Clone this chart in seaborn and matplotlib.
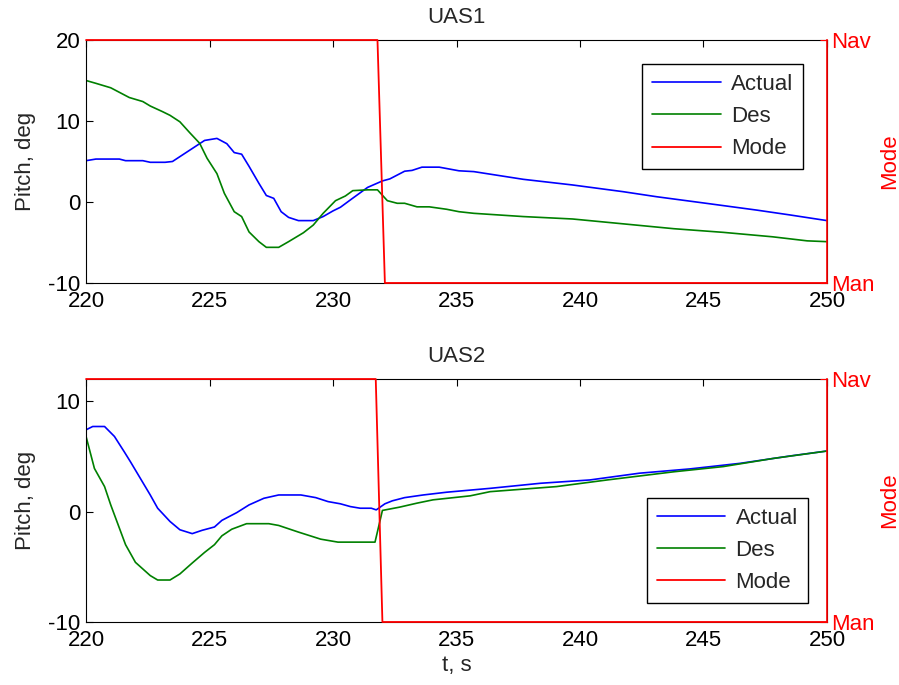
import matplotlib
matplotlib.use("Agg")
import matplotlib.pyplot as plt
import seaborn as sns

sns.set_style("white")
plt.rcParams['font.family'] = ['Liberation Sans', 'DejaVu Sans']
plt.rcParams['axes.unicode_minus'] = False

# UAS1 data
t_act1 = [220.0, 220.4, 221.35, 221.6, 222.3, 222.6, 223.2, 223.5, 223.8, 224.3, 224.8, 225.3, 225.7,
          226.0, 226.3, 226.6, 227.0, 227.3, 227.6, 227.9, 228.2, 228.6, 229.2, 229.6, 230.0, 230.3,
          230.7, 231.4, 232.0, 232.3, 232.9, 233.2, 233.6, 234.3, 235.1, 235.7, 237.7, 239.7, 241.75,
          243.1, 245.1, 247.15, 248.5, 250.0]
act1 = [5.1, 5.3, 5.3, 5.1, 5.1, 4.9, 4.9, 5.0, 5.6, 6.6, 7.6, 7.85, 7.2,
        6.1, 5.9, 4.4, 2.3, 0.8, 0.45, -1.2, -1.9, -2.3, -2.3, -1.8, -1.1, -0.65,
        0.25, 1.8, 2.6, 2.85, 3.8, 3.9, 4.3, 4.3, 3.85, 3.75, 2.8, 2.1, 1.27,
        0.65, -0.16, -1.0, -1.6, -2.3]
t_des1 = [220.0, 220.4, 221.0, 221.75, 222.3, 222.6, 223.1, 223.4, 223.8, 224.2, 224.6, 224.9, 225.3,
          225.6, 226.0, 226.3, 226.6, 227.0, 227.3, 227.8, 228.2, 228.8, 229.2, 229.6, 230.1, 230.5,
          230.8, 231.4, 231.8, 232.2, 232.6, 232.9, 233.4, 233.9, 234.6, 235.1, 235.7, 237.7, 239.7,
          241.75, 243.8, 245.8, 247.8, 249.2, 250.0]
des1 = [15.0, 14.65, 14.1, 12.9, 12.4, 11.85, 11.15, 10.7, 9.9, 8.55, 7.25, 5.4, 3.5,
        1.07, -1.2, -1.8, -3.7, -4.9, -5.6, -5.6, -4.9, -3.8, -2.85, -1.4, 0.16, 0.74,
        1.4, 1.5, 1.5, 0.16, -0.16, -0.16, -0.6, -0.6, -0.9, -1.2, -1.4, -1.8, -2.1,
        -2.7, -3.3, -3.75, -4.3, -4.8, -4.9]
t_mode1 = [220.0, 231.8, 232.1, 250.0]
mode1 = [1, 1, 0, 0]

# UAS2 data
t_act2 = [220.0, 220.27, 220.75, 221.15, 221.55, 221.8, 222.2, 222.6, 222.9, 223.4, 223.8, 224.3, 224.7,
          225.2, 225.5, 226.1, 226.6, 227.2, 227.8, 228.7, 229.3, 229.8, 230.3, 230.7, 231.1, 231.55,
          231.75, 232.1, 232.4, 232.9, 233.65, 234.6, 235.1, 236.36, 238.4, 240.4, 242.4, 244.45,
          246.5, 248.5, 250.0]
act2 = [7.4, 7.7, 7.7, 6.8, 5.4, 4.5, 3.0, 1.5, 0.3, -0.9, -1.65, -2.0, -1.7,
        -1.4, -0.8, -0.1, 0.6, 1.2, 1.5, 1.5, 1.26, 0.9, 0.7, 0.45, 0.3, 0.3,
        0.15, 0.7, 0.97, 1.26, 1.5, 1.75, 1.85, 2.1, 2.56, 2.86, 3.47, 3.86,
        4.37, 5.03, 5.48]
t_des2 = [220.0, 220.34, 220.75, 221.0, 221.3, 221.6, 222.0, 222.6, 222.9, 223.4, 223.8, 224.3, 224.8,
          225.2, 225.5, 225.9, 226.5, 227.4, 227.8, 228.2, 228.6, 229.5, 230.2, 231.7, 232.0, 232.7,
          233.4, 234.05, 235.55, 236.36, 239.05, 241.1, 243.8, 245.8, 247.8, 250.0]
des2 = [6.8, 3.9, 2.26, 0.6, -1.2, -3.0, -4.6, -5.8, -6.2, -6.2, -5.65, -4.66, -3.7,
        -3.0, -2.2, -1.6, -1.1, -1.1, -1.26, -1.56, -1.86, -2.5, -2.77, -2.77, 0.1, 0.4,
        0.76, 1.06, 1.42, 1.8, 2.26, 2.86, 3.6, 4.07, 4.8, 5.48]
t_mode2 = [220.0, 231.73, 232.0, 250.0]
mode2 = [1, 1, 0, 0]

x_ticks = [220, 225, 230, 235, 240, 245, 250]
mode_ticks = [0, 1]
mode_labels = ["Man", "Nav"]

FS = 16


# draw one panel: pitch lines on the left axis, mode on a red right axis
def draw_panel(ax, title, t_act, act, t_des, des, t_mode, mode, ylim, yticks, legend_loc, legend_anchor):
    sns.lineplot(x=t_act, y=act, ax=ax, color=(0, 0, 1), linewidth=1.2, legend=False)
    sns.lineplot(x=t_des, y=des, ax=ax, color=(0, 0.5, 0), linewidth=1.2, legend=False)
    ax.set_xlim(220, 250)
    ax.set_ylim(*ylim)
    ax.set_xticks(x_ticks)
    ax.set_yticks(yticks)
    ax.tick_params(direction='in', length=5, width=0.8, labelsize=FS, top=True, right=True,
                   colors='black')
    ax.tick_params(axis='x', pad=6)
    ax.tick_params(axis='y', pad=4)
    ax.set_ylabel("Pitch, deg", fontsize=FS, labelpad=9)
    ax.set_title(title, fontsize=FS, pad=12)
    for s in ax.spines.values():
        s.set_color('black')
        s.set_linewidth(0.8)

    ax2 = ax.twinx()
    sns.lineplot(x=t_mode, y=mode, ax=ax2, color=(1, 0, 0), linewidth=1.3, legend=False)
    mode_line = ax2.lines[-1]
    mode_line.set_clip_on(False)
    mode_line.set_zorder(3)
    ax2.set_ylim(0, 1)
    ax2.set_yticks(mode_ticks)
    ax2.set_yticklabels(mode_labels)
    ax2.tick_params(axis='y', direction='in', length=5, width=0.8, labelsize=FS, colors='red', pad=3)
    ax2.set_ylabel("Mode", fontsize=FS, color='red', labelpad=3)
    ax2.spines['right'].set_color('red')
    ax2.spines['right'].set_linewidth(1.2)
    for s in ['top', 'bottom', 'left']:
        ax2.spines[s].set_visible(False)

    handles = [ax.lines[0], ax.lines[1], mode_line]
    leg = ax2.legend(handles, ["Actual", "Des", "Mode"], loc=legend_loc, bbox_to_anchor=legend_anchor,
                     fontsize=FS, frameon=True, fancybox=False, framealpha=1, edgecolor='black',
                     handlelength=3.1, handletextpad=0.45, labelspacing=0.5, borderpad=0.45,
                     borderaxespad=0)
    leg.get_frame().set_linewidth(1.0)
    return ax2


fig = plt.figure(figsize=(8.99, 6.85), dpi=100)
ax_top = fig.add_axes([0.0957, 0.5869, 0.8242, 0.3547])
ax_bot = fig.add_axes([0.0957, 0.0920, 0.8242, 0.3547])

draw_panel(ax_top, "UAS1", t_act1, act1, t_des1, des1, t_mode1, mode1,
           (-10, 20), [-10, 0, 10, 20], 'upper right', (0.968, 0.901))
draw_panel(ax_bot, "UAS2", t_act2, act2, t_des2, des2, t_mode2, mode2,
           (-10, 12), [-10, 0, 10], 'lower right', (0.974, 0.078))
ax_bot.set_xlabel("t, s", fontsize=FS, labelpad=3)

fig.savefig("out.png", dpi=100)
